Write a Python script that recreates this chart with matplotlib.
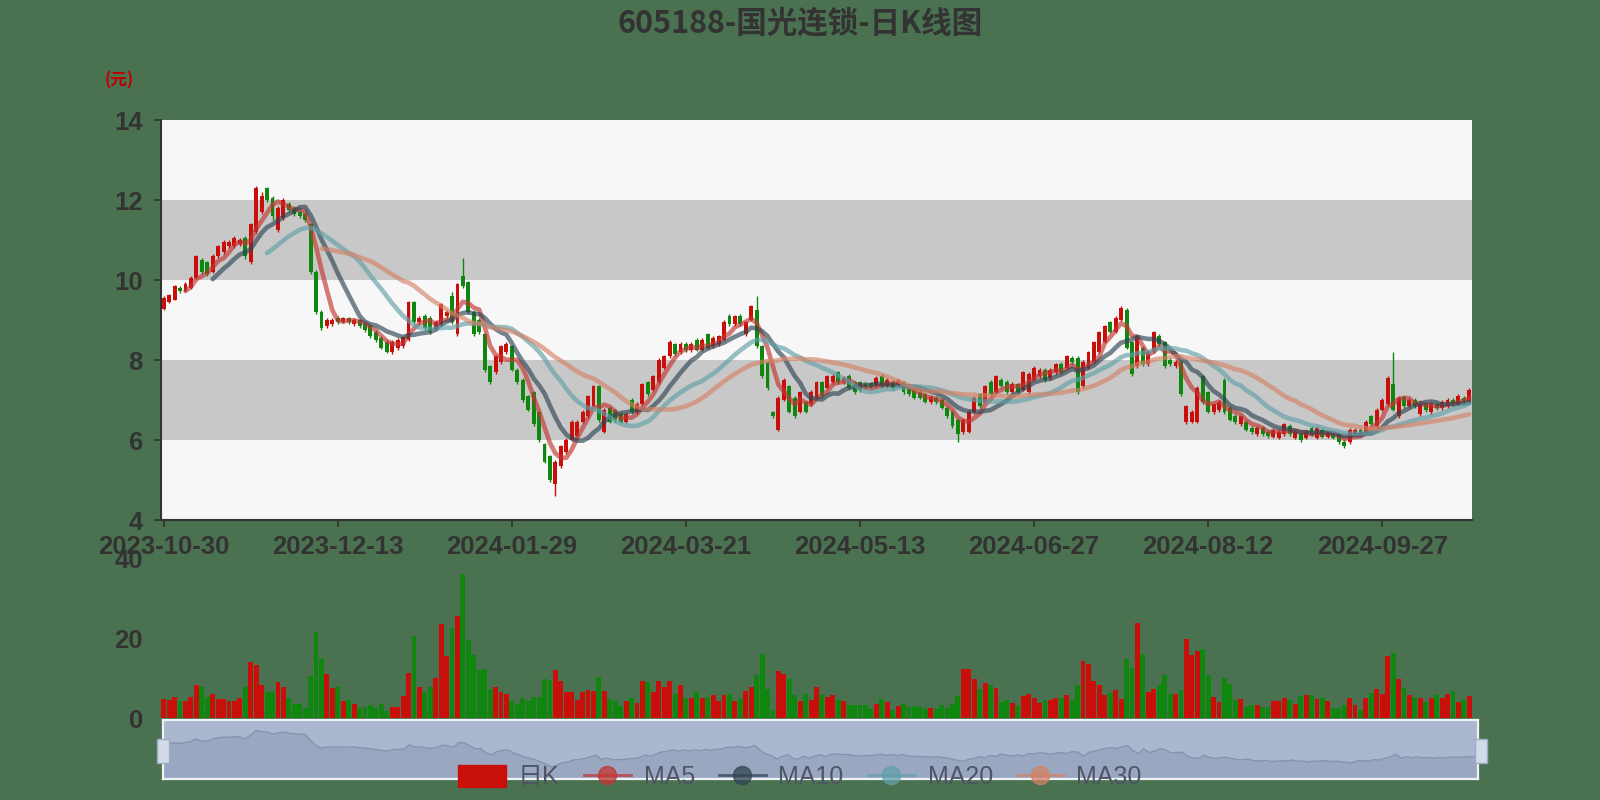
import numpy as np
import pandas as pd
import matplotlib
matplotlib.use('Agg')
import matplotlib.pyplot as plt
from matplotlib.patches import Rectangle, Patch
from matplotlib.lines import Line2D

plt.rcParams['font.family'] = ['Liberation Sans', 'Noto Sans CJK SC', 'DejaVu Sans']

title = '605188-国光连锁-日K线图'
tick_labels = ['2023-10-30', '2023-12-13', '2024-01-29', '2024-03-21',
               '2024-05-13', '2024-06-27', '2024-08-12', '2024-09-27']
tick_step = 32

opens = [
    9.28, 9.45, 9.51, 9.80, 9.72, 9.81, 10.06, 10.50, 10.44, 10.20,
    10.59, 10.70, 10.85, 10.84, 10.90, 11.06, 10.46, 11.21, 11.71, 12.30,
    12.06, 11.26, 11.56, 11.90, 11.80, 11.70, 11.65, 11.39, 10.21, 9.20,
    8.85, 8.90, 9.05, 8.95, 9.05, 8.90, 9.00, 8.90, 8.84, 8.70,
    8.55, 8.46, 8.19, 8.30, 8.34, 8.51, 9.44, 8.95, 9.10, 9.06,
    8.75, 8.89, 9.10, 9.60, 8.64, 10.10, 9.94, 9.21, 9.00, 8.64,
    7.84, 7.69, 7.94, 8.19, 8.34, 7.76, 7.51, 7.09, 7.19, 6.69,
    5.89, 5.59, 4.90, 5.34, 5.69, 6.01, 6.09, 6.46, 6.59, 6.84,
    7.34, 6.21, 6.81, 6.75, 6.66, 6.46, 7.01, 6.70, 6.89, 7.44,
    7.26, 7.44, 7.81, 8.09, 8.39, 8.20, 8.40, 8.25, 8.51, 8.26,
    8.64, 8.35, 8.39, 8.51, 9.10, 8.89, 9.10, 8.64, 9.01, 9.25,
    8.34, 7.94, 6.69, 6.26, 7.01, 7.34, 7.06, 6.71, 6.94, 6.89,
    7.06, 7.44, 7.31, 7.45, 7.69, 7.45, 7.60, 7.44, 7.44, 7.40,
    7.42, 7.34, 7.60, 7.35, 7.45, 7.40, 7.44, 7.31, 7.26, 7.20,
    7.14, 6.95, 7.05, 7.01, 6.81, 6.71, 6.51, 6.19, 6.21, 6.69,
    7.14, 6.96, 7.46, 7.21, 7.50, 7.45, 7.20, 7.39, 7.26, 7.20,
    7.51, 7.60, 7.75, 7.55, 7.69, 7.90, 7.81, 8.05, 8.06, 7.34,
    7.81, 7.96, 8.21, 8.46, 8.94, 8.71, 9.01, 9.26, 8.44, 7.84,
    8.30, 7.89, 8.21, 8.60, 8.44, 8.00, 7.85, 7.96, 6.44, 6.46,
    6.46, 7.59, 7.19, 6.69, 6.75, 7.51, 6.81, 6.60, 6.39, 6.46,
    6.30, 6.14, 6.30, 6.20, 6.08, 6.06, 6.14, 6.35, 6.06, 6.15,
    6.06, 6.30, 6.06, 6.25, 6.08, 6.14, 6.14, 5.96, 5.94, 6.15,
    6.25, 6.21, 6.59, 6.34, 6.76, 6.89, 7.39, 6.60, 7.08, 6.85,
    7.00, 6.64, 6.90, 6.70, 6.90, 6.80, 6.85, 7.00, 6.90, 7.05,
    6.95,
]
closes = [
    9.55, 9.62, 9.84, 9.72, 9.90, 10.06, 10.59, 10.20, 10.14, 10.60,
    10.84, 10.95, 10.95, 11.06, 11.00, 10.60, 11.39, 12.30, 12.10, 12.00,
    11.59, 11.81, 12.00, 11.75, 11.65, 11.60, 11.50, 10.21, 9.21, 8.80,
    9.00, 9.00, 8.95, 9.05, 8.95, 9.00, 8.85, 8.75, 8.60, 8.50,
    8.31, 8.21, 8.46, 8.50, 8.57, 9.44, 8.96, 9.05, 8.80, 8.69,
    8.95, 9.39, 9.20, 8.95, 9.89, 9.85, 9.21, 8.64, 8.70, 7.76,
    7.46, 8.09, 8.34, 8.39, 7.76, 7.44, 7.01, 6.76, 6.39, 6.01,
    5.46, 5.01, 5.46, 5.84, 6.01, 6.46, 6.46, 6.71, 7.09, 7.34,
    6.51, 6.76, 6.46, 6.50, 6.46, 6.66, 6.69, 6.90, 7.39, 7.14,
    7.59, 8.01, 8.09, 8.46, 8.14, 8.40, 8.25, 8.40, 8.26, 8.50,
    8.31, 8.55, 8.59, 8.96, 8.90, 9.09, 8.90, 8.94, 9.34, 8.34,
    7.59, 7.31, 6.60, 7.06, 7.51, 6.71, 6.59, 7.19, 6.71, 7.21,
    7.44, 7.10, 7.59, 7.60, 7.44, 7.55, 7.30, 7.19, 7.25, 7.32,
    7.34, 7.56, 7.35, 7.50, 7.30, 7.48, 7.19, 7.14, 7.06, 7.06,
    6.96, 7.08, 6.95, 6.81, 6.59, 6.34, 6.14, 6.51, 6.71, 7.06,
    6.84, 7.34, 7.14, 7.59, 7.35, 7.20, 7.40, 7.21, 7.69, 7.65,
    7.81, 7.75, 7.50, 7.75, 7.89, 7.70, 8.09, 7.95, 7.19, 7.96,
    8.19, 8.44, 8.69, 8.84, 8.71, 9.06, 9.31, 8.31, 7.64, 8.59,
    7.90, 8.21, 8.69, 8.40, 7.84, 7.90, 7.95, 7.14, 6.84, 6.71,
    7.31, 6.94, 6.71, 6.89, 6.95, 6.69, 6.51, 6.45, 6.59, 6.26,
    6.20, 6.31, 6.15, 6.10, 6.25, 6.21, 6.39, 6.15, 6.21, 6.00,
    6.20, 6.14, 6.30, 6.08, 6.18, 6.06, 5.94, 5.85, 6.26, 6.25,
    6.15, 6.46, 6.39, 6.76, 7.01, 7.56, 6.76, 7.05, 6.85, 7.00,
    6.85, 6.89, 6.75, 6.90, 6.80, 6.95, 7.00, 6.90, 7.10, 6.95,
    7.26,
]
highs = [
    9.59, 9.66, 9.88, 9.84, 9.94, 10.10, 10.63, 10.54, 10.48, 10.64,
    10.88, 10.99, 10.99, 11.10, 11.04, 11.10, 11.43, 12.36, 12.19, 12.33,
    12.10, 11.85, 12.06, 11.94, 11.84, 11.74, 11.69, 11.43, 10.25, 9.24,
    9.04, 9.06, 9.09, 9.08, 9.08, 9.04, 9.03, 8.93, 8.87, 8.75,
    8.59, 8.49, 8.50, 8.55, 8.60, 9.47, 9.47, 9.10, 9.14, 9.09,
    9.00, 9.42, 9.25, 9.69, 9.92, 10.56, 9.98, 9.25, 9.05, 8.68,
    7.88, 8.12, 8.38, 8.44, 8.38, 7.80, 7.55, 7.12, 7.22, 6.72,
    5.92, 5.62, 5.50, 5.88, 6.05, 6.50, 6.50, 6.75, 7.12, 7.38,
    7.38, 6.80, 6.85, 6.78, 6.70, 6.70, 7.05, 6.94, 7.42, 7.48,
    7.62, 8.05, 8.12, 8.50, 8.42, 8.44, 8.44, 8.44, 8.55, 8.54,
    8.68, 8.59, 8.63, 9.00, 9.14, 9.13, 9.14, 8.98, 9.38, 9.59,
    8.38, 7.98, 6.72, 7.10, 7.55, 7.38, 7.10, 7.23, 6.98, 7.25,
    7.48, 7.48, 7.63, 7.64, 7.73, 7.59, 7.64, 7.48, 7.48, 7.44,
    7.46, 7.60, 7.64, 7.54, 7.49, 7.52, 7.48, 7.35, 7.30, 7.24,
    7.18, 7.12, 7.09, 7.05, 6.85, 6.75, 6.55, 6.55, 6.75, 7.10,
    7.18, 7.38, 7.50, 7.63, 7.54, 7.49, 7.44, 7.43, 7.73, 7.69,
    7.85, 7.79, 7.79, 7.79, 7.93, 7.94, 8.13, 8.09, 8.10, 8.00,
    8.23, 8.48, 8.73, 8.88, 8.98, 9.10, 9.35, 9.30, 8.48, 8.63,
    8.34, 8.25, 8.73, 8.64, 8.48, 8.04, 7.99, 8.00, 6.88, 6.75,
    7.35, 7.63, 7.23, 6.93, 6.99, 7.55, 6.85, 6.64, 6.63, 6.50,
    6.34, 6.35, 6.34, 6.24, 6.29, 6.25, 6.43, 6.39, 6.25, 6.19,
    6.24, 6.34, 6.34, 6.29, 6.22, 6.18, 6.18, 5.99, 6.30, 6.29,
    6.29, 6.50, 6.63, 6.80, 7.05, 7.60, 8.21, 7.09, 7.12, 7.04,
    7.04, 6.93, 6.94, 6.94, 6.94, 6.99, 7.04, 7.04, 7.14, 7.09,
    7.30,
]
lows = [
    9.25, 9.42, 9.50, 9.68, 9.70, 9.78, 10.02, 10.15, 10.10, 10.18,
    10.55, 10.66, 10.80, 10.80, 10.86, 10.52, 10.40, 11.15, 11.65, 11.95,
    11.50, 11.20, 11.50, 11.70, 11.60, 11.55, 11.45, 10.15, 9.15, 8.75,
    8.80, 8.86, 8.90, 8.92, 8.90, 8.86, 8.80, 8.70, 8.55, 8.45,
    8.28, 8.18, 8.15, 8.26, 8.30, 8.48, 8.90, 8.90, 8.76, 8.65,
    8.72, 8.85, 9.05, 8.90, 8.60, 9.80, 9.15, 8.60, 8.65, 7.70,
    7.40, 7.65, 7.90, 8.15, 7.72, 7.40, 6.96, 6.72, 6.35, 5.96,
    5.42, 4.96, 4.59, 5.30, 5.65, 5.97, 6.05, 6.42, 6.55, 6.80,
    6.46, 6.18, 6.42, 6.46, 6.42, 6.42, 6.65, 6.66, 6.85, 7.10,
    7.22, 7.40, 7.78, 8.05, 8.10, 8.16, 8.20, 8.20, 8.22, 8.22,
    8.28, 8.30, 8.35, 8.48, 8.86, 8.85, 8.86, 8.60, 8.98, 8.30,
    7.55, 7.26, 6.56, 6.22, 6.97, 6.67, 6.55, 6.67, 6.67, 6.85,
    7.02, 7.06, 7.27, 7.41, 7.40, 7.41, 7.26, 7.15, 7.21, 7.28,
    7.30, 7.30, 7.31, 7.31, 7.26, 7.36, 7.15, 7.10, 7.02, 7.02,
    6.92, 6.91, 6.91, 6.77, 6.55, 6.30, 5.94, 6.15, 6.17, 6.65,
    6.80, 6.92, 7.10, 7.17, 7.31, 7.16, 7.16, 7.17, 7.22, 7.16,
    7.47, 7.56, 7.46, 7.51, 7.65, 7.66, 7.77, 7.91, 7.15, 7.30,
    7.77, 7.92, 8.17, 8.42, 8.67, 8.67, 8.97, 8.27, 7.60, 7.80,
    7.86, 7.85, 8.17, 8.36, 7.80, 7.86, 7.81, 7.10, 6.40, 6.42,
    6.42, 6.90, 6.67, 6.65, 6.71, 6.65, 6.47, 6.41, 6.35, 6.22,
    6.16, 6.10, 6.11, 6.06, 6.04, 6.02, 6.10, 6.11, 6.02, 5.96,
    6.02, 6.10, 6.02, 6.04, 6.04, 6.02, 5.90, 5.81, 5.90, 6.11,
    6.11, 6.17, 6.35, 6.30, 6.72, 6.85, 6.72, 6.56, 6.81, 6.81,
    6.81, 6.60, 6.71, 6.66, 6.76, 6.76, 6.81, 6.86, 6.86, 6.91,
    6.91,
]
volumes = [
    4.7, 4.4, 5.3, 4.3, 4.3, 5.3, 8.3, 7.7, 5.3, 6.1,
    4.7, 4.7, 4.3, 4.3, 4.9, 7.7, 14.0, 13.2, 8.3, 6.6,
    6.4, 8.9, 7.8, 4.9, 3.4, 3.6, 2.6, 10.6, 21.4, 14.7,
    10.9, 7.5, 7.8, 4.3, 4.4, 3.4, 2.6, 2.7, 3.2, 2.4,
    3.6, 1.7, 2.7, 2.7, 5.5, 11.2, 20.6, 7.8, 6.4, 7.8,
    10.0, 23.4, 15.5, 22.6, 25.5, 35.9, 19.6, 15.7, 12.1, 12.3,
    7.2, 7.7, 6.4, 6.1, 4.3, 3.6, 4.9, 4.3, 5.3, 5.3,
    9.8, 9.4, 11.9, 9.2, 6.4, 6.6, 4.4, 6.4, 7.0, 6.8,
    10.2, 6.8, 4.7, 4.3, 3.0, 4.3, 4.9, 3.8, 9.2, 8.9,
    6.4, 9.2, 7.7, 9.2, 6.1, 8.3, 5.1, 4.9, 6.6,
    5.0, 5.2, 5.7, 4.2, 5.7, 6.1, 4.2, 4.7, 6.7, 7.8,
    10.8, 16.1, 7.3, 1.9, 11.8, 11.1, 9.7, 5.7, 4.2, 6.1,
    4.6, 7.8, 5.8, 5.2, 5.8, 4.4, 4.2, 3.2, 3.3, 3.3,
    3.2, 2.3, 3.4, 4.7, 4.0, 1.9, 3.0, 3.6, 2.8, 3.0,
    2.8, 2.3, 2.5, 2.3, 3.2, 2.5, 3.6, 5.5, 12.2, 12.2,
    9.7, 7.2, 8.8, 8.3, 7.5, 4.0, 4.4, 3.8, 3.0, 5.5,
    6.1, 5.0, 3.8, 4.4, 4.4, 5.0, 5.0, 5.7, 4.4, 8.2,
    14.2, 13.6, 9.2, 8.2, 5.8, 6.3, 6.9, 4.8, 14.8, 12.5,
    23.8, 16.1, 6.5, 7.2, 8.3, 10.7, 6.1, 6.1, 6.9, 19.7,
    15.7, 16.7, 17.3, 10.7, 5.2, 4.0, 10.0, 8.6, 4.4, 4.8,
    2.8, 3.3, 3.2, 2.8, 2.8, 4.2, 4.2, 5.0, 4.4, 3.6,
    5.5, 5.7, 5.7, 4.7, 5.0, 4.2, 2.5, 2.5, 3.3, 5.0,
    3.3, 1.9, 5.0, 6.3, 7.3, 6.1, 15.5, 16.3, 9.8, 7.5,
    5.8, 5.2, 5.0, 4.0, 5.0, 5.7, 5.0, 6.1, 6.7, 4.0,
    4.4, 5.5,
]
ma_windows = [5, 10, 20, 30]

BG = '#4a7250'
UP = '#c80f0a'
DOWN = '#0f870f'
TXT = '#333333'
ma_colors = ['#c23531', '#2f4554', '#61a0a8', '#d48265']

o = np.array(opens)
c = np.array(closes)
h = np.array(highs)
l = np.array(lows)
n = len(c)
x = np.arange(n)
colors = np.where(c >= o, UP, DOWN)

fig = plt.figure(figsize=(16, 8), dpi=100, facecolor=BG)

# price panel
ax = fig.add_axes([161 / 1600, 1 - 520 / 800, 1311 / 1600, 400 / 800])
ax.set_xlim(-0.5, n - 0.5)
ax.set_ylim(4, 14)
ax.set_facecolor('#f7f7f7')
for i, y0 in enumerate(range(4, 14, 2)):
    ax.axhspan(y0, y0 + 2, color='#f7f7f7' if i % 2 == 0 else '#c8c8c8', lw=0, zorder=0)

ax.vlines(x, l, h, colors=colors, lw=1.0, zorder=3)
ax.bar(x, np.maximum(np.abs(c - o), 0.03), bottom=np.minimum(o, c), width=0.72,
       color=colors, lw=0, zorder=4)

close_s = pd.Series(c)
for w, col in zip(ma_windows, ma_colors):
    ax.plot(x, close_s.rolling(w).mean(), color=col, lw=3.3, alpha=0.65,
            zorder=5, solid_capstyle='round')

for side in ['top', 'right']:
    ax.spines[side].set_visible(False)
for side in ['left', 'bottom']:
    ax.spines[side].set_color(TXT)
    ax.spines[side].set_linewidth(1.5)
ax.set_yticks(range(4, 15, 2))
ax.set_xticks(x[::tick_step][:len(tick_labels)])
ax.set_xticklabels(tick_labels)
ax.tick_params(axis='y', colors=TXT, labelsize=18.5, length=5, width=1.2, pad=8)
ax.tick_params(axis='x', colors=TXT, labelsize=18.5, length=5, width=1.2, pad=6)
for lab in ax.get_xticklabels() + ax.get_yticklabels():
    lab.set_fontweight('bold')

fig.text(119 / 1600, 1 - 80 / 800, '(元)', color='#c00000', fontsize=12,
         fontweight='bold', ha='center', va='center',
         family=['Noto Sans CJK SC', 'DejaVu Sans'])
fig.text(0.5, 1 - 23 / 800, title, ha='center', va='center', fontsize=22,
         fontweight='bold', color=TXT, family=['Noto Sans CJK SC', 'DejaVu Sans'])

# volume panel
axv = fig.add_axes([161 / 1600, 1 - 718 / 800, 1311 / 1600, 160 / 800])
axv.set_xlim(-0.5, n - 0.5)
axv.set_ylim(0, 40)
axv.patch.set_alpha(0)
axv.bar(x, volumes, width=0.9, color=colors, lw=0)
for sp in axv.spines.values():
    sp.set_visible(False)
axv.set_xticks([])
axv.set_yticks([0, 20, 40])
axv.tick_params(axis='y', colors=TXT, labelsize=18.5, length=0, pad=13)
for lab in axv.get_yticklabels():
    lab.set_fontweight('bold')

# data zoom slider
axs = fig.add_axes([163 / 1600, 1 - 779 / 800, 1315 / 1600, 59 / 800], zorder=10)
axs.set_facecolor('#aab7cf')
axs.set_xlim(0, n - 1)
axs.set_ylim(2.6, 14.4)
axs.fill_between(x, c, 2.6, color='#9aa7c0', lw=0)
axs.plot(x, c, color='#8593ae', lw=1)
axs.set_xticks([])
axs.set_yticks([])
for sp in axs.spines.values():
    sp.set_color('#eef2f8')
    sp.set_linewidth(1.6)
for hx in [157, 1475]:
    fig.add_artist(Rectangle((hx / 1600, 1 - 763 / 800), 12 / 1600, 24 / 800,
                             transform=fig.transFigure, facecolor='#d3dae8',
                             edgecolor='#9eabc4', lw=1, zorder=11))

handles = [Patch(facecolor=UP, edgecolor=UP)]
for col in ma_colors:
    handles.append(Line2D([], [], color=col, lw=2, marker='o', markersize=13, alpha=0.75))
leg = fig.legend(handles, ['日K', 'MA5', 'MA10', 'MA20', 'MA30'], loc='center',
                 bbox_to_anchor=(0.5, 1 - 777 / 800), ncol=5, frameon=False,
                 fontsize=18, handlelength=1.9, handleheight=1.0, handletextpad=0.5,
                 columnspacing=0.95, labelcolor='#4e5463')
leg.set_zorder(12)

fig.savefig('out.png', dpi=100, facecolor=BG)
